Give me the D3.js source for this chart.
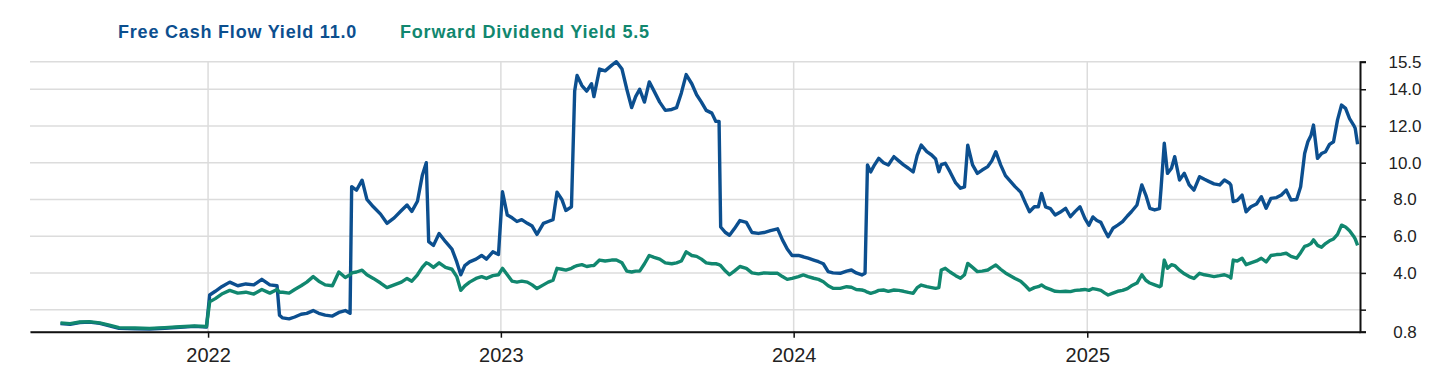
<!DOCTYPE html>
<head>
	<script src="https://d3js.org/d3.v7.min.js"></script>
	<style>
		body { margin: 0; background: #fff; }
		text { font-family: "Liberation Sans", Arial, sans-serif; }
	</style>
</head>

<body>
	<script type="text/javascript">

		// dates of the sampled points (both series share them)
		var dates = [
			"2021-07-01","2021-07-13","2021-07-25","2021-08-06","2021-08-19","2021-08-31","2021-09-12","2021-10-02","2021-10-20","2021-11-08","2021-11-27","2021-12-15","2021-12-30",
			"2022-01-03","2022-01-10","2022-01-18","2022-01-28","2022-02-07","2022-02-17","2022-02-27","2022-03-09","2022-03-19","2022-03-28","2022-03-31","2022-04-04","2022-04-12","2022-04-19","2022-04-27","2022-05-04","2022-05-12","2022-05-19","2022-05-27","2022-06-05","2022-06-13","2022-06-21","2022-06-27","2022-06-29","2022-07-05","2022-07-12","2022-07-18","2022-07-26","2022-08-04","2022-08-12","2022-08-21","2022-08-30","2022-09-06","2022-09-12","2022-09-19","2022-09-25","2022-09-30","2022-10-03","2022-10-09","2022-10-16","2022-10-24","2022-11-01","2022-11-07","2022-11-12","2022-11-17","2022-11-23","2022-12-01","2022-12-08","2022-12-14","2022-12-22","2022-12-29",
			"2023-01-03","2023-01-09","2023-01-15","2023-01-21","2023-01-27","2023-02-03","2023-02-09","2023-02-15","2023-02-23","2023-03-01","2023-03-07","2023-03-12","2023-03-18","2023-03-23","2023-03-30","2023-04-03","2023-04-06","2023-04-12","2023-04-18","2023-04-24","2023-04-27","2023-05-04","2023-05-11","2023-05-19","2023-05-25","2023-06-01","2023-06-07","2023-06-13","2023-06-18","2023-06-23","2023-06-29","2023-07-05","2023-07-11","2023-07-18","2023-07-25","2023-08-02","2023-08-08","2023-08-14","2023-08-20","2023-08-27","2023-09-02","2023-09-08","2023-09-14","2023-09-21","2023-09-26","2023-09-30","2023-10-02","2023-10-08","2023-10-13","2023-10-19","2023-10-26","2023-11-03","2023-11-10","2023-11-18","2023-11-25","2023-12-03","2023-12-12","2023-12-18","2023-12-24","2023-12-30",
			"2024-01-07","2024-01-13","2024-01-19","2024-01-26","2024-02-01","2024-02-07","2024-02-13","2024-02-19","2024-02-28","2024-03-07","2024-03-13","2024-03-19","2024-03-26","2024-03-30","2024-04-02","2024-04-06","2024-04-11","2024-04-16","2024-04-22","2024-04-28","2024-05-05","2024-05-11","2024-05-17","2024-05-23","2024-05-29","2024-06-03","2024-06-08","2024-06-15","2024-06-21","2024-06-26","2024-06-30","2024-07-03","2024-07-08","2024-07-14","2024-07-21","2024-07-27","2024-08-01","2024-08-05","2024-08-11","2024-08-17","2024-08-23","2024-08-30","2024-09-04","2024-09-09","2024-09-15","2024-09-21","2024-09-27","2024-10-03","2024-10-10","2024-10-16","2024-10-21","2024-10-27","2024-11-01","2024-11-05","2024-11-10","2024-11-16","2024-11-22","2024-11-28","2024-12-05","2024-12-11","2024-12-17","2024-12-23","2024-12-29",
			"2025-01-03","2025-01-08","2025-01-13","2025-01-18","2025-01-23","2025-01-27","2025-02-02","2025-02-08","2025-02-14","2025-02-20","2025-02-25","2025-03-04","2025-03-10","2025-03-15","2025-03-20","2025-03-26","2025-04-01","2025-04-03","2025-04-07","2025-04-11","2025-04-16","2025-04-20","2025-04-26","2025-05-02","2025-05-08","2025-05-14","2025-05-21","2025-05-27","2025-06-02","2025-06-08","2025-06-15","2025-06-21","2025-06-27","2025-06-29","2025-07-02","2025-07-07","2025-07-13","2025-07-18","2025-07-24","2025-07-31","2025-08-06","2025-08-12","2025-08-18","2025-08-25","2025-08-31","2025-09-06","2025-09-12","2025-09-19","2025-09-24","2025-09-29","2025-10-03","2025-10-07","2025-10-10","2025-10-15","2025-10-20","2025-10-25","2025-10-30","2025-11-04","2025-11-09","2025-11-14","2025-11-19","2025-11-24","2025-11-29","2025-12-01","2025-12-04"
		];

		var fcfYield = [
			1.24,1.20,1.30,1.32,1.25,1.12,0.98,0.96,0.95,0.99,1.04,1.09,1.05,
			2.80,3.00,3.25,3.50,3.30,3.40,3.35,3.65,3.35,3.30,1.70,1.55,1.50,1.60,1.75,1.80,1.95,1.80,1.70,1.65,1.85,1.95,1.80,8.70,8.50,9.05,8.00,7.60,7.20,6.70,7.00,7.40,7.70,7.35,7.90,9.30,10.00,5.70,5.50,6.15,5.70,5.30,4.60,3.90,4.40,4.60,4.75,4.95,4.75,5.15,5.00,
			8.42,7.15,7.00,6.80,6.90,6.70,6.55,6.10,6.70,6.80,6.90,8.40,8.00,7.40,7.60,13.90,14.75,14.20,13.90,14.30,13.60,15.10,15.00,15.30,15.50,15.10,14.00,13.00,13.60,14.00,13.30,14.40,13.90,13.30,12.85,12.90,13.00,13.80,14.80,14.30,13.70,13.30,12.85,12.70,12.25,12.25,6.50,6.20,6.05,6.40,6.85,6.75,6.20,6.15,6.20,6.30,6.40,5.80,5.30,4.95,
			4.95,4.88,4.80,4.70,4.61,4.50,4.07,4.00,3.98,4.10,4.16,4.00,3.89,3.98,9.88,9.50,9.90,10.24,10.00,9.88,10.33,10.10,9.88,9.70,9.50,10.40,10.96,10.60,10.42,10.20,9.51,9.90,9.97,9.50,8.90,8.61,8.69,10.96,9.88,9.42,9.60,9.79,10.10,10.60,9.88,9.30,9.00,8.70,8.40,7.80,7.33,7.60,7.60,8.33,7.60,7.50,7.15,7.30,7.52,7.06,7.35,7.60,6.97,
			6.60,7.05,6.85,6.75,6.30,5.97,6.43,6.60,6.79,7.10,7.33,7.70,8.79,8.24,7.52,7.43,7.50,8.60,11.06,9.42,9.70,10.33,9.06,9.42,8.80,8.51,9.24,9.10,8.97,8.85,8.79,9.06,8.90,8.79,7.88,7.95,8.24,7.33,7.60,7.75,8.15,7.52,8.06,8.10,8.24,8.51,7.97,8.00,8.69,10.50,11.14,11.50,12.05,10.24,10.50,10.60,11.00,11.14,12.33,13.14,12.96,12.40,12.05,11.88,11.00
		];

		var divYield = [
			1.28,1.24,1.33,1.35,1.28,1.16,1.02,1.00,0.98,1.02,1.07,1.12,1.08,
			2.43,2.60,2.85,3.05,2.90,2.95,2.85,3.10,2.90,3.10,2.95,2.95,2.90,3.10,3.30,3.50,3.80,3.55,3.35,3.30,4.05,3.75,3.90,4.00,4.05,4.15,3.90,3.70,3.45,3.20,3.35,3.50,3.70,3.55,3.90,4.30,4.55,4.50,4.30,4.55,4.30,4.20,3.80,3.05,3.30,3.50,3.70,3.80,3.70,3.85,3.90,
			4.25,3.90,3.55,3.50,3.55,3.50,3.35,3.15,3.35,3.50,3.60,4.25,4.20,4.15,4.25,4.35,4.40,4.45,4.35,4.40,4.40,4.70,4.65,4.70,4.70,4.55,4.10,4.05,4.10,4.10,4.50,4.95,4.85,4.75,4.55,4.50,4.55,4.65,5.15,4.95,4.90,4.75,4.55,4.50,4.50,4.45,4.40,4.10,3.90,4.10,4.35,4.25,4.00,3.95,4.00,3.98,3.98,3.80,3.65,3.70,
			3.80,3.89,3.80,3.71,3.65,3.52,3.30,3.16,3.16,3.25,3.22,3.10,3.07,3.02,2.95,2.89,2.95,3.05,3.07,3.00,3.07,3.05,3.00,2.94,2.89,3.20,3.34,3.25,3.20,3.16,3.20,4.16,4.25,4.05,3.85,3.71,3.90,4.52,4.30,4.07,4.10,4.16,4.30,4.43,4.20,4.00,3.85,3.70,3.55,3.30,3.07,3.20,3.25,3.34,3.20,3.10,3.00,2.98,3.00,2.98,3.05,3.07,3.10,
			3.05,3.15,3.10,3.05,2.90,2.80,2.90,3.00,3.05,3.15,3.30,3.45,3.90,3.60,3.45,3.35,3.25,3.30,4.70,4.25,4.45,4.40,4.15,3.95,3.80,3.70,3.98,3.90,3.85,3.80,3.85,3.90,3.80,3.72,4.70,4.65,4.80,4.45,4.55,4.65,4.80,4.60,4.95,5.00,5.02,5.07,4.90,4.80,5.10,5.45,5.50,5.60,5.80,5.50,5.40,5.60,5.75,5.85,6.10,6.60,6.50,6.30,6.00,5.85,5.50
		];

		var seriesNames = ["Free Cash Flow Yield", "Forward Dividend Yield"];
		var lastValues = ["11.0", "5.5"];
		var yTicks = [0.8, 2, 4, 6, 8, 10, 12, 14, 15.5];
		var yTickLabels = ["0.8", "", "4.0", "6.0", "8.0", "10.0", "12.0", "14.0", "15.5"];
		var xTicks = ["2022-01-01", "2023-01-01", "2024-01-01", "2025-01-01"];
		var xDomain = ["2021-05-24", "2025-12-07"];

		var w = 1439;
		var h = 371;
		var plotLeft = 30, plotRight = 1360, plotTop = 61.7, plotBottom = 331.7;
		var blue = "#0c4f8f";
		var teal = "#11876f";

		var parse = d3.timeParse("%Y-%m-%d");

		var svg = d3.select("body")
				.append("svg")
				.attr("width", w)
				.attr("height", h);

		var xScale = d3.scaleTime()
					.domain(xDomain.map(parse))
					.range([plotLeft, plotRight]);

		var yScale = d3.scaleLinear()
					.domain([0.8, 15.5])
					.range([plotBottom, plotTop]);

		// grid
		svg.selectAll("line.hgrid")
			.data(yTicks)
			.enter()
			.append("line")
			.attr("class", "hgrid")
			.attr("x1", plotLeft)
			.attr("x2", plotRight)
			.attr("y1", function(d){ return yScale(d); })
			.attr("y2", function(d){ return yScale(d); })
			.attr("stroke", "#dcdcdc")
			.attr("stroke-width", 1.5);

		svg.selectAll("line.vgrid")
			.data(xTicks.map(parse))
			.enter()
			.append("line")
			.attr("class", "vgrid")
			.attr("x1", function(d){ return xScale(d); })
			.attr("x2", function(d){ return xScale(d); })
			.attr("y1", plotTop)
			.attr("y2", plotBottom)
			.attr("stroke", "#dcdcdc")
			.attr("stroke-width", 1.5);

		// lines
		var rows = dates.map(function(d, i){
			return {date: parse(d), fcf: fcfYield[i], div: divYield[i]};
		});

		var fcfLine = d3.line()
			.x(function(d){ return xScale(d.date); })
			.y(function(d){ return yScale(d.fcf); });

		var divLine = d3.line()
			.x(function(d){ return xScale(d.date); })
			.y(function(d){ return yScale(d.div); });

		svg.append("path")
			.datum(rows)
			.attr("d", fcfLine)
			.attr("fill", "none")
			.attr("stroke", blue)
			.attr("stroke-width", 3.4)
			.attr("stroke-linejoin", "round");

		svg.append("path")
			.datum(rows)
			.attr("d", divLine)
			.attr("fill", "none")
			.attr("stroke", teal)
			.attr("stroke-width", 3.4)
			.attr("stroke-linejoin", "round");

		// axes
		var xAxis = d3.axisBottom(xScale)
			.tickValues(xTicks.map(parse))
			.tickFormat(d3.timeFormat("%Y"))
			.tickSize(6)
			.tickSizeOuter(0);

		var gx = svg.append("g")
			.attr("transform", "translate(0," + plotBottom + ")")
			.call(xAxis);
		gx.select(".domain").attr("stroke", "#111").attr("stroke-width", 2);
		gx.selectAll(".tick line").attr("stroke", "#111").attr("stroke-width", 1.5);
		gx.selectAll(".tick text")
			.attr("y", 16)
			.attr("font-size", 20)
			.attr("font-family", "Liberation Sans, Arial, sans-serif")
			.attr("fill", "#222");

		var yAxis = d3.axisRight(yScale)
			.tickValues(yTicks)
			.tickFormat(function(d, i){ return yTickLabels[i]; })
			.tickSize(6)
			.tickSizeOuter(6);

		var gy = svg.append("g")
			.attr("transform", "translate(" + plotRight + ",0)")
			.call(yAxis);
		gy.select(".domain").attr("stroke", "#111").attr("stroke-width", 2);
		gy.selectAll(".tick line").attr("stroke", "#111").attr("stroke-width", 1.5);
		gy.selectAll(".tick text")
			.attr("x", 45)
			.attr("text-anchor", "middle")
			.attr("font-size", 17)
			.attr("font-family", "Liberation Sans, Arial, sans-serif")
			.attr("fill", "#222");

		// legend
		var legendX = [118, 400];
		var legendColors = [blue, teal];
		svg.selectAll("text.legend")
			.data(seriesNames)
			.enter()
			.append("text")
			.attr("class", "legend")
			.attr("x", function(d, i){ return legendX[i]; })
			.attr("y", 38)
			.attr("font-size", 18)
			.attr("font-weight", "bold")
			.attr("letter-spacing", 0.8)
			.attr("fill", function(d, i){ return legendColors[i]; })
			.text(function(d, i){ return d + " " + lastValues[i]; });

	</script>
</body>
